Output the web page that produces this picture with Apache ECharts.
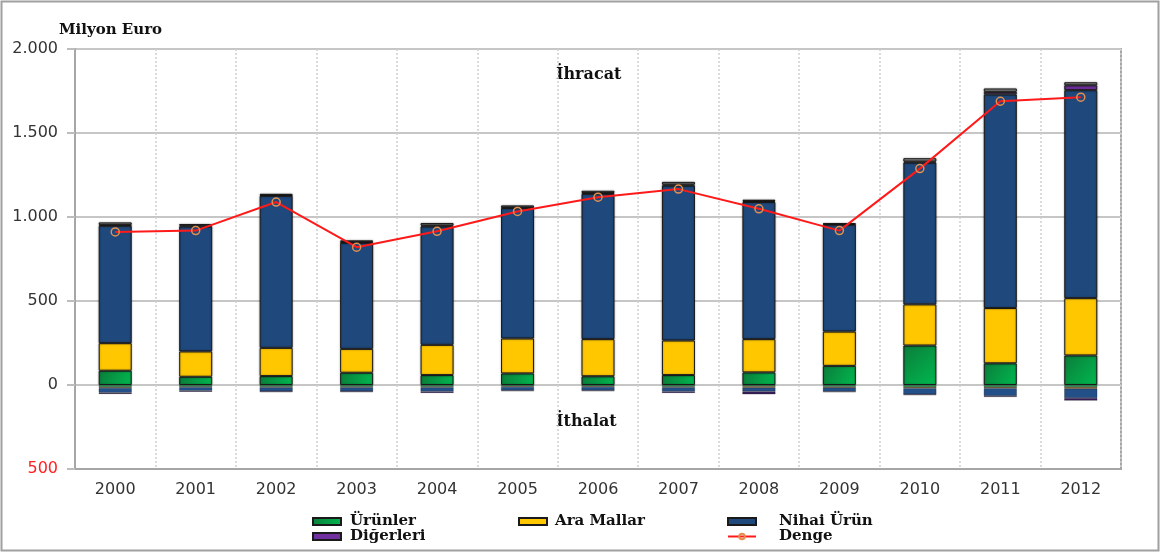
<!DOCTYPE html>
<html>
<head>
<meta charset="utf-8">
<script src="https://cdn.jsdelivr.net/npm/echarts@6/dist/echarts.min.js"></script>
<style>
html,body{margin:0;padding:0;background:#fff;}
#chart{width:1161px;height:554px;}
</style>
</head>
<body>
<div id="chart"></div>
<script>
const years = ['2000','2001','2002','2003','2004','2005','2006','2007','2008','2009','2010','2011','2012'];
// Exports (positive stack)
const urunlerIhr  = [85, 49, 53, 73, 59, 69, 52, 59, 75, 114, 235, 129, 176];
const araIhr      = [164, 151, 168, 142, 180, 208, 221, 206, 198, 204, 245, 329, 341];
const nihaiIhr    = [699, 744, 905, 631, 705, 776, 865, 922, 816, 636, 844, 1272, 1238];
const digerIhr    = [5, 5, 4, 5, 5, 4, 5, 6, 6, 4, 6, 15, 29];
const capIhr      = [15, 9, 8, 10, 15, 12, 13, 16, 8, 6, 20, 20, 18];
// Imports (negative stack)
const urunlerIth  = [-12, -10, -10, -10, -10, -8, -8, -10, -8, -10, -12, -12, -12];
const araIth      = [-6, -4, -5, -5, -5, -4, -4, -5, -8, -6, -8, -8, -10];
const nihaiIth    = [-28, -20, -22, -22, -24, -20, -20, -24, -22, -22, -35, -45, -55];
const digerIth    = [-7, -6, -6, -6, -8, -5, -5, -8, -17, -5, -6, -6, -16];
// Balance
const denge       = [911, 919, 1089, 820, 915, 1033, 1118, 1166, 1049, 919, 1288, 1689, 1713];
const yTicks      = [-500, 0, 500, 1000, 1500, 2000];

const chart = echarts.init(document.getElementById('chart'));
const serif = 'DejaVu Serif';
const border = {borderColor:'#1a1a1a', borderWidth:1, shadowBlur:2, shadowColor:'rgba(0,0,0,0.35)'};
const thin = {borderColor:'rgba(20,20,20,0.6)', borderWidth:0.5};
const greenGrad = new echarts.graphic.LinearGradient(0,0,1,1,[{offset:0,color:'#0b7d3a'},{offset:1,color:'#00b84f'}]);
function bar(name, data, color, b){
  return {name:name, type:'bar', stack:'a', barWidth:33, data:data,
    itemStyle:Object.assign({color:color}, b||border)};
}
function fmt(v){
  if (v < 0) return '{r|' + Math.abs(v) + '}';
  if (v >= 1000) return Math.floor(v/1000) + '.' + String(v%1000).padStart(3,'0');
  return String(v);
}
const legendText = {fontFamily:serif, fontWeight:'bold', fontSize:15, color:'#111'};
chart.setOption({
  animation:false,
  backgroundColor:'#fff',
  grid:{left:75, right:40, top:49, bottom:85, show:true, borderColor:'#a6a6a6', borderWidth:2},
  title:{text:'Milyon Euro', left:54, top:18, textStyle:{fontFamily:serif, fontWeight:'bold', fontSize:15, color:'#111'}},
  graphic:[
    {type:'rect', shape:{x:1.5, y:1.5, width:1157, height:549}, style:{fill:'none', stroke:'#a0a0a0', lineWidth:2}, silent:true},
    {type:'text', left:556, top:67, style:{text:'İhracat', font:'bold 16px "DejaVu Serif"', fill:'#111'}},
    {type:'text', left:556, top:414, style:{text:'İthalat', font:'bold 16px "DejaVu Serif"', fill:'#111'}}
  ],
  legend:[
    {left:307, top:509, orient:'vertical', icon:'rect', itemWidth:28, itemHeight:7, itemGap:0, data:['Ürünler','Diğerleri'],
      textStyle:Object.assign({padding:[0,0,0,4], lineHeight:14}, legendText)},
    {left:513, top:509, orient:'vertical', icon:'rect', itemWidth:28, itemHeight:7, itemGap:0, data:['Ara Mallar'],
      textStyle:Object.assign({padding:[0,0,0,3], lineHeight:14}, legendText)},
    {left:722, top:509, orient:'vertical', itemWidth:28, itemHeight:7, itemGap:0,
      data:[{name:'Nihai Ürün', icon:'rect'},{name:'Denge'}],
      textStyle:Object.assign({padding:[0,0,0,18], lineHeight:14}, legendText)}
  ],
  xAxis:{type:'category', data:years, boundaryGap:true,
    axisLine:{show:true, onZero:false, lineStyle:{color:'#a6a6a6', width:2}},
    axisTick:{show:false},
    axisLabel:{margin:13, fontFamily:'DejaVu Sans', fontSize:16, color:'#333'},
    splitLine:{show:true, interval:0, lineStyle:{color:'#cfcfcf', width:1.5, type:[2,2]}}
  },
  yAxis:{type:'value', min:yTicks[0], max:yTicks[yTicks.length-1], interval:500,
    axisLine:{show:true, lineStyle:{color:'#a6a6a6', width:2}},
    axisTick:{show:true, inside:false, length:8, lineStyle:{color:'#bdbdbd', width:2}},
    axisLabel:{margin:17, fontFamily:'DejaVu Sans', fontSize:16, color:'#333', formatter:fmt,
      rich:{r:{color:'#ff2020', fontFamily:'DejaVu Sans', fontSize:16}}},
    splitLine:{show:true, lineStyle:{color:'#c6c6c6', width:2}}
  },
  series:[
    bar('Ürünler', urunlerIhr, greenGrad),
    bar('Ara Mallar', araIhr, '#ffc700'),
    bar('Nihai Ürün', nihaiIhr, '#1f487c'),
    bar('Diğerleri', digerIhr, '#7030a0'),
    bar('cap', capIhr, '#8c8c8c'),
    bar('Ürünler', urunlerIth, '#149048', thin),
    bar('Ara Mallar', araIth, '#7a5418', thin),
    bar('Nihai Ürün', nihaiIth, '#24508a', thin),
    bar('Diğerleri', digerIth, '#3a1f5c', thin),
    {name:'Denge', type:'line', data:denge, z:5,
      symbol:'circle', symbolSize:8,
      lineStyle:{color:'#ff1a1a', width:2},
      itemStyle:{color:'rgba(0,0,0,0)', borderColor:'#e3904f', borderWidth:1.5}}
  ]
});
</script>
</body>
</html>
